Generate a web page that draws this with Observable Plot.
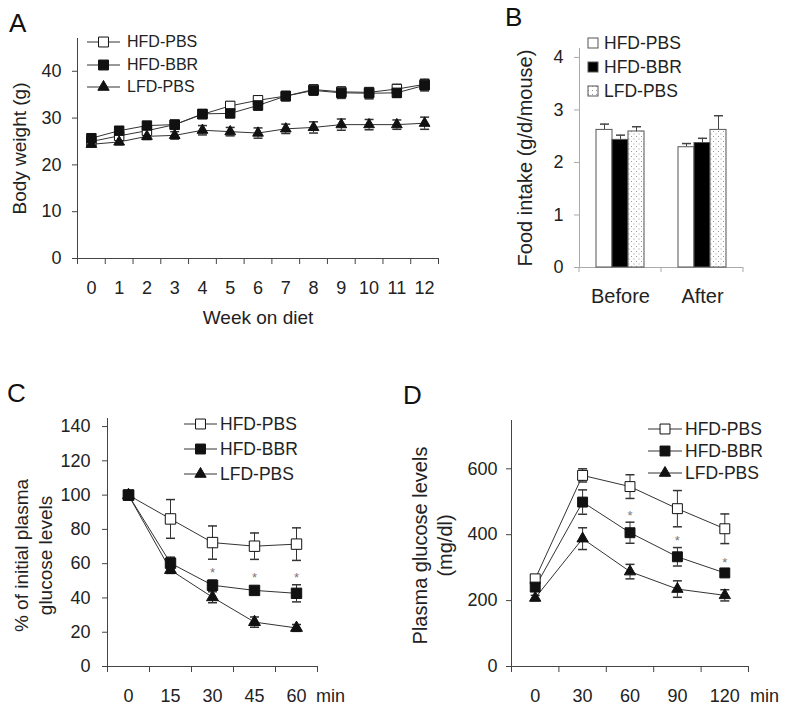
<!DOCTYPE html>
<html>
<head>
<meta charset="utf-8">
<script src="https://cdn.jsdelivr.net/npm/d3@7"></script>
<script src="https://cdn.jsdelivr.net/npm/@observablehq/plot@0.6"></script>
<style>
  body { margin: 0; background: #fff; }
  #fig { position: relative; width: 787px; height: 709px; background: #fff; overflow: hidden;
         font-family: "Liberation Sans", Arial, sans-serif; color: #222; }
  #fig > svg { position: absolute; background: transparent; }
  .letter { position: absolute; font-size: 26px; line-height: 1; color: #111; }
  .lg-row { position: absolute; height: 20px; display: flex; align-items: center; white-space: nowrap; color: #222; }
  .lg-row svg { display: block; }
</style>
</head>
<body>
<div id="fig"></div>
<script>
// ---------------- DATA ----------------
const seriesNames = ["HFD-PBS", "HFD-BBR", "LFD-PBS"];

// A: body weight (g) by week on diet
const weeks = ["0","1","2","3","4","5","6","7","8","9","10","11","12"];
const bwHfdPbs    = [25.0, 26.2, 27.3, 28.6, 30.8, 32.6, 33.8, 34.7, 36.1, 35.6, 35.5, 36.2, 37.2];
const bwHfdPbsErr = [0.6, 0.6, 0.7, 0.8, 0.8, 0.9, 0.9, 0.9, 1.0, 1.0, 1.0, 1.0, 1.1];
const bwHfdBbr    = [25.7, 27.3, 28.4, 28.6, 30.9, 31.0, 32.7, 34.7, 35.9, 35.4, 35.3, 35.4, 37.0];
const bwHfdBbrErr = [0.6, 0.7, 0.7, 0.7, 0.8, 0.9, 1.0, 1.0, 1.0, 1.2, 1.2, 1.0, 1.2];
const bwLfdPbs    = [24.4, 24.9, 26.1, 26.3, 27.4, 27.1, 26.8, 27.7, 28.0, 28.6, 28.6, 28.6, 28.9];
const bwLfdPbsErr = [0.5, 0.6, 0.7, 0.8, 1.0, 0.9, 1.1, 1.0, 1.2, 1.2, 1.1, 1.0, 1.3];

// B: food intake (g/d/mouse)
const periods = ["Before", "After"];
const fiHfdPbs    = [2.62, 2.29];
const fiHfdPbsErr = [0.11, 0.07];
const fiHfdBbr    = [2.43, 2.37];
const fiHfdBbrErr = [0.09, 0.09];
const fiLfdPbs    = [2.59, 2.62];
const fiLfdPbsErr = [0.09, 0.27];

// C: % of initial plasma glucose levels (ITT)
const ittTimes     = ["0", "15", "30", "45", "60"];
const ittHfdPbs    = [100, 86.1, 72.3, 70.2, 71.4];
const ittHfdPbsErr = [0, 11.3, 9.7, 7.7, 9.5];
const ittHfdBbr    = [100, 60.3, 47.4, 44.4, 42.7];
const ittHfdBbrErr = [0, 3.5, 3.0, 2.2, 5.0];
const ittLfdPbs    = [100, 56.3, 40.4, 25.9, 22.5];
const ittLfdPbsErr = [0, 2.0, 3.2, 3.0, 2.0];
const ittStarAt    = ["30", "45", "60"];
const ittStarY     = [56.5, 53.5, 53.5];

// D: plasma glucose levels (mg/dl) (GTT)
const gttTimes     = ["0", "30", "60", "90", "120"];
const gttHfdPbs    = [266, 580, 546, 479, 418];
const gttHfdPbsErr = [12, 20, 36, 55, 45];
const gttHfdBbr    = [241, 499, 406, 333, 284];
const gttHfdBbrErr = [10, 37, 32, 28, 10];
const gttLfdPbs    = [208, 388, 288, 235, 216];
const gttLfdPbsErr = [8, 33, 22, 25, 17];
const gttStarAt    = ["60", "90", "120"];
const gttStarY     = [466, 391, 324];

// ---------------- HELPERS ----------------
const FONT = '"Liberation Sans", Arial, sans-serif';
const LN = "#333";
const fig = document.getElementById("fig");
const capSym = { draw(ctx) { ctx.moveTo(-4.5, 0); ctx.lineTo(4.5, 0); } };

const markerStyles = [
  { symbol: "square", fill: "#fff", r: 5.6 },
  { symbol: "square", fill: "#111", r: 5.6 },
  { symbol: "triangle", fill: "#111", r: 4.2 }
];

function place(svg, left, top) {
  svg.style.left = left + "px";
  svg.style.top = top + "px";
  fig.appendChild(svg);
}

function linePanel(cfg) {
  const n = cfg.labels.length;
  const rows = cfg.series.flatMap((s, si) => s.values.map((v, i) => ({
    name: s.name, si, i, v, lo: v - s.errs[i], hi: v + s.errs[i]
  })));
  const errRows = rows.filter(d => d.hi > d.lo);
  const stars = cfg.stars ? cfg.stars.at.map((t, k) => ({ i: cfg.labels.indexOf(t), v: cfg.stars.y[k] })) : [];
  return Plot.plot({
    width: cfg.width, height: cfg.height,
    marginLeft: cfg.m[0], marginRight: cfg.m[1], marginTop: cfg.m[2], marginBottom: cfg.m[3],
    style: { fontFamily: FONT, fontSize: cfg.tickFont + "px", color: "#222", background: "transparent" },
    x: { domain: [-0.5, n - 0.5] },
    y: { domain: cfg.yDomain },
    marks: [
      Plot.ruleY([cfg.yDomain[0]], { stroke: cfg.axisColor }),
      Plot.ruleX([-0.5], { stroke: cfg.axisColor }),
      Plot.axisY({ ticks: cfg.yTicks, tickFormat: d => d, tickSize: 5, tickPadding: cfg.yPad, stroke: cfg.axisColor, fill: "#222", label: null }),
      Plot.axisX({ ticks: d3.range(n + 1).map(k => k - 0.5), tickFormat: () => "", tickSize: 6, stroke: cfg.axisColor, label: null }),
      Plot.axisX({ ticks: d3.range(n), tickFormat: k => cfg.labels[k], tickSize: 0, tickPadding: 23, fill: "#222", label: null }),
      Plot.ruleX(errRows, { x: "i", y1: "lo", y2: "hi", stroke: LN, strokeWidth: 1 }),
      Plot.dot(errRows, { x: "i", y: "lo", symbol: capSym, stroke: LN, r: 1 }),
      Plot.dot(errRows, { x: "i", y: "hi", symbol: capSym, stroke: LN, r: 1 }),
      Plot.line(rows, { x: "i", y: "v", z: "name", stroke: LN, strokeWidth: 1 }),
      ...cfg.series.map((s, si) => Plot.dot(rows.filter(d => d.si === si), {
        x: "i", y: "v", symbol: markerStyles[si].symbol, fill: markerStyles[si].fill,
        stroke: "#111", strokeWidth: 1, r: markerStyles[si].r * (cfg.markerScale || 1)
      })),
      Plot.text(stars, { x: "i", y: "v", text: () => "*", fill: "#777", fontSize: 13, dy: 3 }),
      Plot.text([cfg.yTitle], { text: d => d, frameAnchor: "left", textAnchor: "middle", lineAnchor: "middle",
        rotate: -90, dx: cfg.yTitleDx, dy: cfg.yTitleDy || 0,
        fontSize: cfg.titleFont, lineHeight: cfg.yTitleLH || 1.2, fill: "#222" }),
      cfg.xTitle ? Plot.text([cfg.xTitle], { text: d => d, frameAnchor: "bottom", textAnchor: "middle", lineAnchor: "middle",
        dy: cfg.xTitleDy, fontSize: cfg.titleFont, fill: "#222" }) : null,
      cfg.unit ? Plot.text([cfg.unit], { text: d => d, frameAnchor: "bottom-right", dx: cfg.unitDx, dy: 23,
        textAnchor: "middle", lineAnchor: "top", fill: "#222" }) : null
    ].filter(Boolean)
  });
}

function letter(ch, left, top) {
  const d = document.createElement("div");
  d.className = "letter";
  d.textContent = ch;
  d.style.left = left + "px";
  d.style.top = top + "px";
  fig.appendChild(d);
}

function lineLegend(names, opt) {
  names.forEach((name, k) => {
    const row = d3.select(fig).append("div").attr("class", "lg-row")
      .style("left", opt.left + "px").style("top", (opt.top + k * opt.gap - 10) + "px")
      .style("font-size", opt.font + "px");
    const s = row.append("svg").attr("width", opt.lineW).attr("height", 20);
    s.append("line").attr("x1", 0).attr("x2", opt.lineW).attr("y1", 10).attr("y2", 10).attr("stroke", LN);
    const ms = markerStyles[k];
    const sym = ms.symbol === "square" ? d3.symbolSquare : d3.symbolTriangle;
    s.append("path").attr("d", d3.symbol(sym, ms.r * ms.r * Math.PI)())
      .attr("transform", `translate(${opt.lineW / 2},10)`)
      .attr("fill", ms.fill).attr("stroke", "#111");
    row.append("span").style("margin-left", opt.textGap + "px").text(name);
  });
}

// ---------------- PANEL A ----------------
const chartA = linePanel({
  width: 445, height: 335, m: [77, 7, 38, 77],
  labels: weeks, yDomain: [0, 47], yTicks: [0, 10, 20, 30, 40], yPad: 11,
  axisColor: "#444", tickFont: 18, titleFont: 19,
  series: [
    { name: seriesNames[0], values: bwHfdPbs, errs: bwHfdPbsErr },
    { name: seriesNames[1], values: bwHfdBbr, errs: bwHfdBbrErr },
    { name: seriesNames[2], values: bwLfdPbs, errs: bwLfdPbsErr }
  ],
  yTitle: "Body weight (g)", yTitleDx: -59,
  xTitle: "Week on diet", xTitleDy: 59,
  markerScale: 0.95
});
place(chartA, 0, 0);

// ---------------- PANEL B ----------------
const fiVals = [fiHfdPbs, fiHfdBbr, fiLfdPbs];
const fiErrs = [fiHfdPbsErr, fiHfdBbrErr, fiLfdPbsErr];
const rowsB = periods.flatMap((p, pi) => seriesNames.map((g, gi) => ({ period: p, group: g, gi, v: fiVals[gi][pi], e: fiErrs[gi][pi] })));
const barFills = ["#fff", "#000", "url(#dotsB)"];
const chartB = Plot.plot({
  width: 342, height: 335, marginLeft: 134, marginRight: 44, marginTop: 48, marginBottom: 68,
  style: { fontFamily: FONT, fontSize: "18px", color: "#222", background: "transparent" },
  fx: { domain: periods, paddingInner: 0, paddingOuter: 0, label: null },
  x: { domain: seriesNames, paddingInner: 0, paddingOuter: 0.97, axis: null },
  y: { domain: [0, 4.17] },
  marks: [
    Plot.frame({ anchor: "left", stroke: "#aaa", facetAnchor: "left" }),
    Plot.ruleY([0], { stroke: "#aaa" }),
    Plot.axisY({ ticks: [0, 1, 2, 3, 4], tickFormat: d => d, tickSize: 5, tickPadding: 11, stroke: "#aaa", fill: "#222", label: null }),
    Plot.axisFx({ anchor: "bottom", tickSize: 0, tickPadding: 21, fontSize: 20, fill: "#222", label: null }),
    Plot.ruleX(rowsB, { fx: "period", x: "group", y1: "v", y2: d => d.v + d.e, stroke: "#444" }),
    Plot.dot(rowsB, { fx: "period", x: "group", y: d => d.v + d.e, symbol: capSym, stroke: "#444", r: 1 }),
    ...seriesNames.map((g, gi) => Plot.barY(rowsB.filter(d => d.gi === gi), {
      fx: "period", x: "group", y: "v", fill: barFills[gi], stroke: "#555", strokeWidth: 1
    })),
    Plot.text(["Food intake (g/d/mouse)"], { text: d => d, frameAnchor: "left", textAnchor: "middle", lineAnchor: "middle",
      rotate: -90, dx: -54, fontSize: 20, fill: "#222", facetAnchor: "left" })
  ]
});
d3.select(chartB).insert("defs", ":first-child").html(
  '<pattern id="dotsB" width="5" height="5" patternUnits="userSpaceOnUse">' +
  '<rect width="5" height="5" fill="#fff"/>' +
  '<rect x="1" y="1" width="1" height="1" fill="#999"/>' +
  '<rect x="3.5" y="3.5" width="1" height="1" fill="#999"/></pattern>'
);
{
  // category boundary ticks below the x axis, from the fx scale
  const fx = chartB.scale("fx");
  const y0 = chartB.scale("y").apply(0);
  const bounds = [fx.apply(periods[0]), ...periods.map(p => fx.apply(p) + fx.bandwidth)];
  d3.select(chartB).append("g").selectAll("line").data(bounds).join("line")
    .attr("x1", d => d).attr("x2", d => d).attr("y1", y0).attr("y2", y0 + 5)
    .attr("stroke", "#aaa");
}
place(chartB, 445, 0);

// ---------------- PANEL C ----------------
const chartC = linePanel({
  width: 400, height: 359, m: [107, 83, 68, 43],
  labels: ittTimes, yDomain: [0, 144.7], yTicks: [0, 20, 40, 60, 80, 100, 120, 140], yPad: 12,
  axisColor: "#444", tickFont: 18, titleFont: 19,
  series: [
    { name: seriesNames[0], values: ittHfdPbs, errs: ittHfdPbsErr },
    { name: seriesNames[1], values: ittHfdBbr, errs: ittHfdBbrErr },
    { name: seriesNames[2], values: ittLfdPbs, errs: ittLfdPbsErr }
  ],
  stars: { at: ittStarAt, y: ittStarY },
  yTitle: "% of initial plasma\nglucose levels", yTitleDx: -75, yTitleDy: 13, yTitleLH: 1.27,
  unit: "min", unitDx: 13,
  markerScale: 1.05
});
place(chartC, 0, 350);

// ---------------- PANEL D ----------------
const chartD = linePanel({
  width: 387, height: 359, m: [111, 39, 70, 43],
  labels: gttTimes, yDomain: [0, 746.6], yTicks: [0, 200, 400, 600], yPad: 9,
  axisColor: "#444", tickFont: 18, titleFont: 20,
  series: [
    { name: seriesNames[0], values: gttHfdPbs, errs: gttHfdPbsErr },
    { name: seriesNames[1], values: gttHfdBbr, errs: gttHfdBbrErr },
    { name: seriesNames[2], values: gttLfdPbs, errs: gttLfdPbsErr }
  ],
  stars: { at: gttStarAt, y: gttStarY },
  yTitle: "Plasma glucose levels\n(mg/dl)", yTitleDx: -80, yTitleDy: 2, yTitleLH: 1.25,
  unit: "min", unitDx: 16,
  markerScale: 1.0
});
place(chartD, 400, 350);

// ---------------- LEGENDS & LETTERS ----------------
lineLegend(seriesNames, { left: 87, top: 42, gap: 22.5, lineW: 33, textGap: 7, font: 16 });
lineLegend(seriesNames, { left: 184, top: 424, gap: 25, lineW: 33, textGap: 3, font: 17.5 });
lineLegend(seriesNames, { left: 648, top: 429, gap: 22, lineW: 34, textGap: 3, font: 17.5 });

// bar legend (B)
seriesNames.forEach((name, k) => {
  const row = d3.select(fig).append("div").attr("class", "lg-row")
    .style("left", "587px").style("top", (43 + k * 24 - 10) + "px").style("font-size", "17.5px");
  const s = row.append("svg").attr("width", 12).attr("height", 20);
  if (k === 2) {
    s.append("defs").html('<pattern id="dotsL" width="4" height="4" patternUnits="userSpaceOnUse">' +
      '<rect width="4" height="4" fill="#fff"/><rect x="1" y="1" width="1" height="1" fill="#999"/></pattern>');
  }
  s.append("rect").attr("x", 1).attr("y", 5).attr("width", 10).attr("height", 10)
    .attr("fill", k === 2 ? "url(#dotsL)" : barFills[k]).attr("stroke", "#555");
  row.append("span").style("margin-left", "5px").text(name);
});

letter("A", 9, 10);
letter("B", 505, 4);
letter("C", 7, 380);
letter("D", 403, 382);
</script>
</body>
</html>
